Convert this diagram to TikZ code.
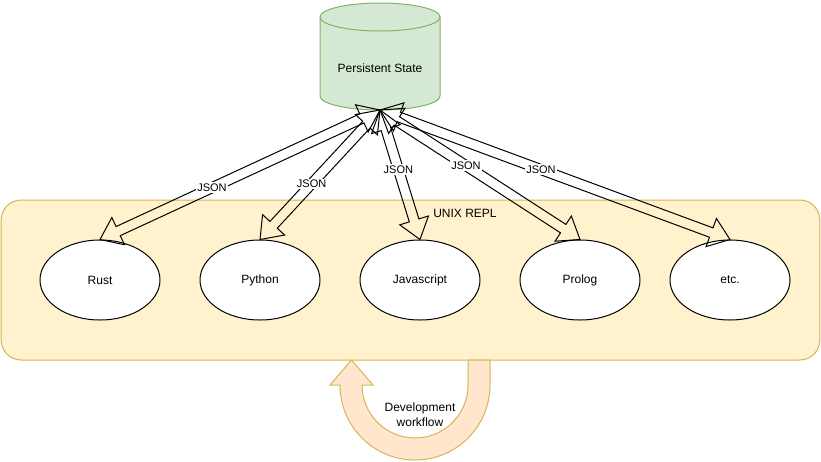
\documentclass[tikz,border=0pt]{standalone}
\usepackage{fontspec}
\setmainfont{Liberation Sans}
\usetikzlibrary{calc,shapes.geometric}
\definecolor{contfill}{HTML}{FFF2CC}
\definecolor{contdraw}{HTML}{D6B656}
\definecolor{cylfill}{HTML}{D5E8D4}
\definecolor{cyldraw}{HTML}{82B366}
\definecolor{ufill}{HTML}{FFE6CC}
\newcommand\flexarr[2]{%
 \draw[flexline] (#1)
 -- ($(#1)!15pt!(#2)!11.25pt!90:(#2)$)
 -- ($(#1)!15pt!(#2)!3.75pt!90:(#2)$)
 -- ($(#2)!15pt!(#1)!3.75pt!-90:(#1)$)
 -- ($(#2)!15pt!(#1)!11.25pt!-90:(#1)$)
 -- (#2)
 -- ($(#2)!15pt!(#1)!11.25pt!90:(#1)$)
 -- ($(#2)!15pt!(#1)!3.75pt!90:(#1)$)
 -- ($(#1)!15pt!(#2)!3.75pt!-90:(#2)$)
 -- ($(#1)!15pt!(#2)!11.25pt!-90:(#2)$)
 -- cycle;}
\begin{document}
\begin{tikzpicture}[x=0.75pt,y=0.75pt,
  font=\fontsize{9}{11.25}\selectfont,
  container/.style={draw=contdraw, fill=contfill, rounded corners=15pt,
    minimum width=614pt, minimum height=120pt, inner sep=0pt, line width=0.75pt},
  lang/.style={ellipse, draw=black, fill=white, minimum width=90pt,
    minimum height=60pt, inner sep=0pt, line width=0.75pt},
  jsonlab/.style={fill=white, inner sep=1pt, font=\fontsize{8.25}{10}\selectfont},
  flexline/.style={draw=black, line width=0.75pt, line join=miter},
  cylside/.style={draw=cyldraw, line width=0.75pt},
  uturn/.style={draw=contdraw, fill=ufill, line width=0.75pt, line join=miter}]
\useasboundingbox (0,0) rectangle (821,-461);
\fill[white] (0,0) rectangle (821,-461);

% container
\node[container] (repl) at (410.5,-280) {};
\node (repllab) at (465,-213) {UNIX REPL};

% language nodes
\node[lang] (rust) at (100,-280) {Rust};
\node[lang] (python) at (260,-280) {Python};
\node[lang] (js) at (420,-280) {Javascript};
\node[lang] (prolog) at (580,-280) {Prolog};
\node[lang] (etc) at (730,-280) {etc.};

% cylinder
\fill[cylfill] (320,-17) -- (320,-96)
  arc[start angle=180,end angle=360,x radius=60,y radius=14]
  -- (440,-17) arc[start angle=0,end angle=180,x radius=60,y radius=14] -- cycle;
\draw[cylside] (320,-17) -- (320,-96)
  arc[start angle=180,end angle=360,x radius=60,y radius=14] -- (440,-17);
\draw[cylside] (380,-17) ellipse[x radius=60, y radius=14];
\node (ps) at (380,-68) {Persistent State};
\coordinate (psb) at (380,-110);

% JSON flex arrows
\flexarr{psb}{rust.north}
\flexarr{psb}{python.north}
\flexarr{psb}{js.north}
\flexarr{psb}{prolog.north}
\flexarr{psb}{etc.north}
\path (psb) -- (rust.north) node[jsonlab,pos=0.6] (l1) {JSON};
\path (psb) -- (python.north) node[jsonlab,pos=0.57] (l2) {JSON};
\path (psb) -- (js.north) node[jsonlab,pos=0.46] (l3) {JSON};
\path (psb) -- (prolog.north) node[jsonlab,pos=0.43] (l4) {JSON};
\path (psb) -- (etc.north) node[jsonlab,pos=0.46] (l5) {JSON};

% development workflow u-turn arrow
\draw[uturn] (490,-360) -- (490,-385) arc[start angle=0,end angle=-180,radius=75]
  -- (330,-385) -- (351.5,-360) -- (373,-385) -- (362,-385)
  arc[start angle=180,end angle=360,radius=53] -- (468,-360) -- cycle;
\node[align=center] (dev) at (420,-415) {Development\\workflow};
\end{tikzpicture}
\end{document}
